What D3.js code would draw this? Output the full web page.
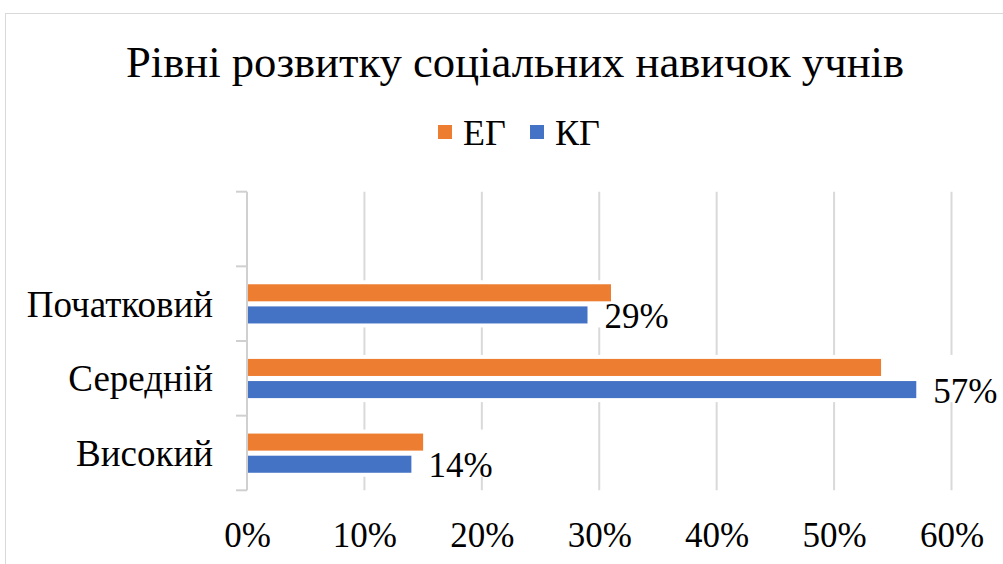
<!DOCTYPE html>
<html>
<head>
<meta charset="utf-8">
<script src="https://cdn.jsdelivr.net/npm/d3@7"></script>
<style>
  html, body { margin: 0; padding: 0; background: #fff; }
  svg { display: block; }
</style>
</head>
<body>
<script>
const title = "Рівні розвитку соціальних навичок учнів";
const categories = ["", "Початковий", "Середній", "Високий"];
const seriesNames = ["ЕГ", "КГ"];
const egValues = [null, 31, 54, 15];
const kgValues = [null, 29, 57, 14];
const xTicks = [0, 10, 20, 30, 40, 50, 60];
const colors = { "ЕГ": "#ED7D31", "КГ": "#4472C4" };

const FONT = "Liberation Serif";
const W = 1003, H = 564;
const svg = d3.select("body").append("svg").attr("width", W).attr("height", H);
function serif(sel, size) {
  return sel.attr("font-family", FONT).attr("font-size", size).attr("fill", "#000");
}

// chart area border
svg.append("rect").attr("x", 5.5).attr("y", 13.5).attr("width", W + 20).attr("height", H + 20)
  .attr("fill", "#fff").attr("stroke", "#d9d9d9").attr("stroke-width", 1);

const x = d3.scaleLinear().domain([0, 60]).range([247, 951.5]);
const y = d3.scaleBand().domain(categories).range([191.7, 490.3]).padding(0);
const ys = d3.scaleBand().domain(seriesNames)
  .range([y.bandwidth() * 0.24, y.bandwidth() * 0.765]).paddingInner(0.23);

const rows = categories.map((c, i) => ({ cat: c, "ЕГ": egValues[i], "КГ": kgValues[i] }))
  .filter(d => d["ЕГ"] != null);

// gridlines
svg.append("g").selectAll("line").data(xTicks.slice(1)).join("line")
  .attr("x1", d => x(d)).attr("x2", d => x(d))
  .attr("y1", y.range()[0]).attr("y2", y.range()[1])
  .attr("stroke", "#d9d9d9").attr("stroke-width", 2);

// white halo behind bar groups (gridlines interrupted)
const fmt = d => d + "%";
svg.append("g").selectAll("rect").data(rows).join("rect")
  .attr("x", x(0) + 2)
  .attr("y", d => y(d.cat) + ys("ЕГ") - 4)
  .attr("width", d => Math.max(x(d["ЕГ"]), x(d["КГ"]) + 17 + 66) - x(0))
  .attr("height", ys("КГ") + ys.bandwidth() - ys("ЕГ") + 8)
  .attr("fill", "#fff");

// bars
const g = svg.append("g");
seriesNames.forEach(s => {
  g.selectAll(null).data(rows).join("rect")
    .attr("x", x(0) + 1)
    .attr("y", d => y(d.cat) + ys(s))
    .attr("width", d => x(d[s]) - x(0) - 1)
    .attr("height", ys.bandwidth())
    .attr("fill", colors[s]);
});

// data labels (КГ)
serif(svg.append("g").selectAll("text").data(rows).join("text")
  .attr("x", d => x(d["КГ"]) + 17)
  .attr("y", d => y(d.cat) + ys("КГ") + ys.bandwidth() / 2 + 13), 35)
  .text(d => fmt(d["КГ"]));

// y axis
const yAxis = d3.axisLeft(y).tickSize(0).tickFormat(() => "");
const yg = svg.append("g").attr("transform", `translate(${x(0)},0)`).call(yAxis);
yg.select(".domain").remove();
svg.append("line").attr("x1", x(0)).attr("x2", x(0))
  .attr("y1", y.range()[0]).attr("y2", y.range()[1])
  .attr("stroke", "#d0d0d0").attr("stroke-width", 2);
const bounds = categories.map(c => y(c)).concat([y.range()[1]]);
svg.append("g").selectAll("line").data(bounds).join("line")
  .attr("x1", x(0) - 11).attr("x2", x(0))
  .attr("y1", d => d).attr("y2", d => d)
  .attr("stroke", "#d0d0d0").attr("stroke-width", 2);

// category labels
serif(svg.append("g").selectAll("text").data(categories.filter(c => c)).join("text")
  .attr("x", 213).attr("y", d => y(d) + y.bandwidth() / 2 + 13)
  .attr("text-anchor", "end"), 37)
  .text(d => d);

// x axis labels
const xAxis = d3.axisBottom(x).tickValues(xTicks).tickSize(0).tickFormat(fmt);
const xg = svg.append("g").attr("transform", `translate(0,${y.range()[1]})`).call(xAxis);
xg.select(".domain").remove();
xg.attr("font-family", FONT);
serif(xg.selectAll("text"), 35).attr("dy", null).attr("y", 57);

// title
serif(svg.append("text").attr("x", 515).attr("y", 77).attr("text-anchor", "middle"), 44)
  .attr("textLength", 778).attr("lengthAdjust", "spacingAndGlyphs")
  .text(title);

// legend
const legendX = [438, 530];
const lg = svg.append("g").selectAll("g").data(seriesNames).join("g")
  .attr("transform", (d, i) => `translate(${legendX[i]},0)`);
lg.append("rect").attr("x", 0).attr("y", 125).attr("width", 14).attr("height", 14)
  .attr("fill", d => colors[d]);
serif(lg.append("text").attr("x", 25).attr("y", 145), 36).text(d => d);
</script>
</body>
</html>
